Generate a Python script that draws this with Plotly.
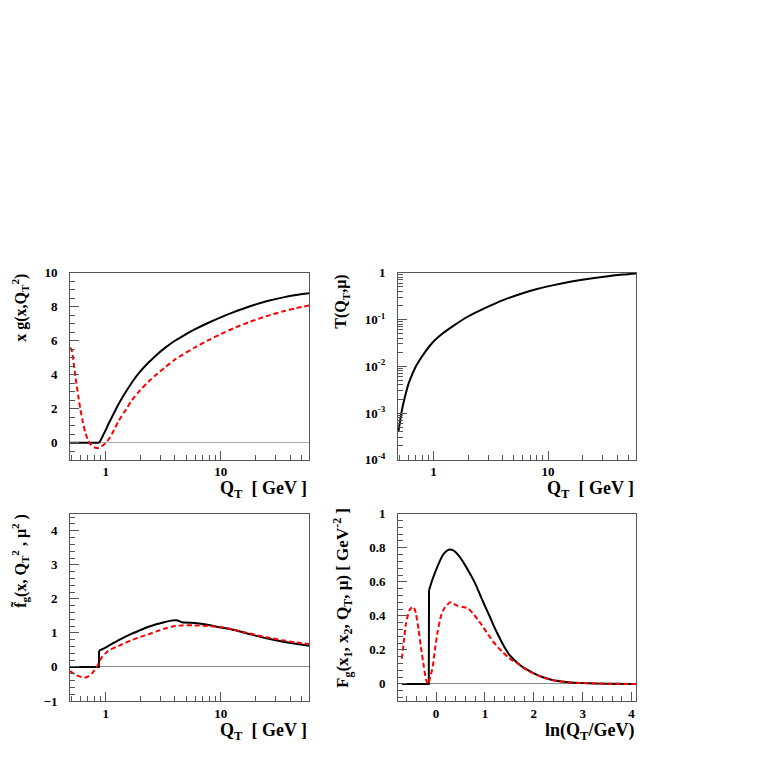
import plotly.graph_objects as go
import numpy as np

# ---------------- data ----------------
# Panel 1: x g(x, Q_T^2) vs Q_T
p1_black_q = [0.49, 0.88, 0.9, 0.95, 1.0, 1.06, 1.15, 1.3, 1.5, 1.69, 2.0, 2.36, 2.8, 3.3, 4.0, 4.6, 6.0, 8.0, 10, 12.8, 18, 25, 35, 45, 58.5]
p1_black_v = [0.0, 0.0, 0.12, 0.45, 0.75, 1.12, 1.6, 2.3, 3.0, 3.55, 4.2, 4.72, 5.2, 5.6, 6.0, 6.25, 6.68, 7.09, 7.38, 7.67, 8.03, 8.32, 8.55, 8.69, 8.8]
p1_red_q = [0.49, 0.505, 0.547, 0.58, 0.604, 0.635, 0.667, 0.70, 0.737, 0.79, 0.842, 0.89, 0.93, 1.0, 1.06, 1.15, 1.3, 1.5, 1.69, 2.0, 2.36, 2.8, 3.3, 4.0, 4.6, 6.0, 8.0, 10, 12.8, 18, 25, 35, 45, 58.5]
p1_red_v = [5.6, 5.48, 3.85, 2.7, 1.95, 1.2, 0.6, 0.2, -0.08, -0.25, -0.3, -0.27, -0.18, 0.0, 0.2, 0.6, 1.3, 1.95, 2.5, 3.1, 3.6, 4.05, 4.45, 4.9, 5.16, 5.62, 6.07, 6.39, 6.72, 7.12, 7.45, 7.73, 7.91, 8.07]

# Panel 2: T(Q_T, mu) vs Q_T
p2_q = [0.494, 0.53, 0.56, 0.604, 0.65, 0.692, 0.76, 0.846, 0.93, 1.0, 1.2, 1.5, 2.0, 2.93, 4.0, 5.73, 8.0, 11.2, 16, 22, 32, 45, 59]
p2_t = [3.98e-4, 1.15e-3, 2.09e-3, 4.17e-3, 6.61e-3, 9.33e-3, 0.0138, 0.0204, 0.0275, 0.0339, 0.0501, 0.0741, 0.116, 0.184, 0.257, 0.352, 0.447, 0.543, 0.646, 0.733, 0.830, 0.912, 0.964]

# Panel 3: f~_g(x, Q_T^2, mu^2) vs Q_T
p3_black_q = [0.49, 0.875, 0.877, 0.95, 1.06, 1.3, 1.69, 2.0, 2.36, 2.8, 3.28, 3.7, 4.1, 4.4, 4.6, 6.0, 7.0, 10, 12.8, 18, 25, 35, 45, 58.5]
p3_black_v = [0.0, 0.0, 0.48, 0.53, 0.62, 0.79, 0.98, 1.08, 1.18, 1.26, 1.32, 1.36, 1.37, 1.34, 1.31, 1.29, 1.26, 1.16, 1.09, 0.96, 0.84, 0.74, 0.68, 0.62]
p3_red_q = [0.49, 0.54, 0.584, 0.625, 0.667, 0.72, 0.76, 0.80, 0.84, 0.88, 0.93, 1.0, 1.06, 1.3, 1.69, 2.0, 2.36, 2.8, 3.28, 4.0, 4.6, 6.0, 8.0, 10, 12.8, 18, 25, 35, 45, 58.5]
p3_red_v = [-0.12, -0.22, -0.27, -0.30, -0.31, -0.26, -0.19, -0.1, 0.0, 0.15, 0.29, 0.40, 0.48, 0.62, 0.79, 0.88, 0.96, 1.05, 1.13, 1.2, 1.22, 1.22, 1.2, 1.17, 1.1, 0.98, 0.87, 0.78, 0.72, 0.67]

# Panel 4: F_g vs ln(Q_T/GeV)
p4_black_l = [-0.70, -0.15, -0.145, -0.07, 0.033, 0.136, 0.2, 0.273, 0.34, 0.41, 0.5, 0.58, 0.68, 0.786, 0.89, 0.99, 1.1, 1.197, 1.30, 1.40, 1.50, 1.61, 1.72, 1.81, 2.0, 2.2, 2.4, 2.7, 3.0, 3.5, 4.09]
p4_black_v = [0.0, 0.0, 0.55, 0.618, 0.694, 0.756, 0.778, 0.79, 0.786, 0.771, 0.74, 0.704, 0.655, 0.598, 0.53, 0.464, 0.395, 0.33, 0.27, 0.215, 0.17, 0.138, 0.11, 0.093, 0.062, 0.038, 0.022, 0.01, 0.005, 0.001, 0.0]
p4_red_l = [-0.70, -0.66, -0.62, -0.55, -0.48, -0.44, -0.41, -0.36, -0.31, -0.25, -0.205, -0.16, -0.12, -0.07, -0.02, 0.033, 0.10, 0.17, 0.29, 0.36, 0.44, 0.55, 0.65, 0.75, 0.855, 0.96, 1.06, 1.16, 1.265, 1.37, 1.47, 1.575, 1.675, 1.81, 2.0, 2.2, 2.4, 2.7, 3.0, 3.5, 4.09]
p4_red_v = [0.148, 0.25, 0.35, 0.43, 0.455, 0.44, 0.41, 0.32, 0.215, 0.10, 0.023, 0.0, 0.04, 0.10, 0.21, 0.31, 0.40, 0.446, 0.48, 0.47, 0.459, 0.452, 0.445, 0.415, 0.378, 0.335, 0.292, 0.252, 0.215, 0.185, 0.158, 0.135, 0.119, 0.09, 0.06, 0.036, 0.021, 0.01, 0.005, 0.001, 0.0]

# tick values
log_major = [1, 10]
log_major_text = ["1", "10"]
log_minor = [0.5, 0.6, 0.7, 0.8, 0.9, 2, 3, 4, 5, 6, 7, 8, 9, 20, 30, 40, 50]
t_major = [1e-4, 1e-3, 1e-2, 1e-1, 1]
t_major_text = ["10<sup>-4</sup>", "10<sup>-3</sup>", "10<sup>-2</sup>", "10<sup>-1</sup>", "1"]
t_minor = [m * d for d in [1e-4, 1e-3, 1e-2, 1e-1] for m in range(2, 10)]
f_major = [0, 0.2, 0.4, 0.6, 0.8, 1.0]
f_major_text = ["0", "0.2", "0.4", "0.6", "0.8", "1"]

# ---------------- figure ----------------
OFF = 8            # default body margin of the html page
W = 763 - 2 * OFF
FONT = "Liberation Serif"
FRAME = "#555555"
BLACK = "#000000"
RED = "#ff0000"

fig = go.Figure()

def px_x(p):
    return (p - OFF) / W

def px_y(p):
    return 1 - (p - OFF) / W

dom = {
    1: ([70, 309], [271, 462]),
    2: ([398, 636], [271, 462]),
    3: ([70, 309], [517, 708]),
    4: ([398, 636], [517, 708]),
}

def add_line(x, y, color, dash, k, shape="linear", smooth=1.0):
    fig.add_trace(go.Scatter(
        x=x, y=y, mode="lines",
        line=dict(color=color, width=2, dash=dash, shape=shape,
                  smoothing=smooth if shape == "spline" else None),
        xaxis="x" if k == 1 else f"x{k}", yaxis="y" if k == 1 else f"y{k}",
        showlegend=False, hoverinfo="skip"))

DASH = "5px,3px"
# panel 1
add_line(p1_black_q[:2], p1_black_v[:2], BLACK, "solid", 1)
add_line(p1_black_q[1:], p1_black_v[1:], BLACK, "solid", 1, "spline", 0.8)
add_line(p1_red_q, p1_red_v, RED, DASH, 1, "spline", 0.8)
# panel 2
add_line(p2_q, p2_t, BLACK, "solid", 2, "spline", 0.8)
# panel 3
add_line(p3_black_q[:3], p3_black_v[:3], BLACK, "solid", 3)
add_line(p3_black_q[2:], p3_black_v[2:], BLACK, "solid", 3, "spline", 0.6)
add_line(p3_red_q, p3_red_v, RED, DASH, 3, "spline", 0.8)
# panel 4
add_line(p4_black_l[:3], p4_black_v[:3], BLACK, "solid", 4)
add_line(p4_black_l[2:], p4_black_v[2:], BLACK, "solid", 4, "spline", 0.6)
add_line(p4_red_l, p4_red_v, RED, DASH, 4, "spline", 0.5)

tickfont = dict(family=FONT, size=13, color="#000", weight="bold")
common = dict(showline=True, linecolor=FRAME, linewidth=1, mirror=True,
              ticks="inside", ticklen=9, tickwidth=1, tickcolor=FRAME,
              showgrid=False, tickfont=tickfont)
XSTAND = 0
YSTAND = 9

def log_x_axis(k):
    (x0, x1), _ = dom[k]
    return dict(type="log", range=[np.log10(0.49), np.log10(58.5)],
                domain=[px_x(x0), px_x(x1)],
                anchor="y" if k == 1 else f"y{k}",
                tickmode="array", tickvals=log_major, ticktext=log_major_text,
                minor=dict(tickmode="array", tickvals=log_minor, ticks="inside", ticklen=5, tickcolor=FRAME),
                zeroline=False, ticklabelstandoff=XSTAND, **common)

def y_dom(k):
    _, (y0, y1) = dom[k]
    return [px_y(y1), px_y(y0)]

layout = dict(
    width=W, height=W, margin=dict(l=0, r=0, t=0, b=0),
    paper_bgcolor="white", plot_bgcolor="white", showlegend=False,
    xaxis=log_x_axis(1),
    xaxis2=log_x_axis(2),
    xaxis3=log_x_axis(3),
    xaxis4=dict(range=[-0.78, 4.09], domain=[px_x(398), px_x(636)], anchor="y4",
                tickmode="linear", tick0=0, dtick=1,
                minor=dict(dtick=0.2, tick0=0, ticks="inside", ticklen=5, tickcolor=FRAME),
                zeroline=False, ticklabelstandoff=XSTAND, **common),
    yaxis=dict(range=[-1, 10], domain=y_dom(1), anchor="x",
               tickmode="linear", tick0=0, dtick=2,
               minor=dict(dtick=0.5, tick0=0, ticks="inside", ticklen=5, tickcolor=FRAME),
               zeroline=True, zerolinecolor="#aaaaaa", zerolinewidth=1,
               ticklabelstandoff=YSTAND, **common),
    yaxis2=dict(type="log", range=[-4, 0], domain=y_dom(2), anchor="x2",
                tickmode="array", tickvals=t_major, ticktext=t_major_text,
                minor=dict(tickmode="array", tickvals=t_minor, ticks="inside", ticklen=5, tickcolor=FRAME),
                zeroline=False, ticklabelstandoff=YSTAND, **common),
    yaxis3=dict(range=[-1, 4.5], domain=y_dom(3), anchor="x3",
                tickmode="linear", tick0=0, dtick=1,
                minor=dict(dtick=0.2, tick0=0, ticks="inside", ticklen=5, tickcolor=FRAME),
                zeroline=True, zerolinecolor="#888888", zerolinewidth=1,
                ticklabelstandoff=YSTAND, **common),
    yaxis4=dict(range=[-0.1, 1.0], domain=y_dom(4), anchor="x4",
                tickmode="array", tickvals=f_major, ticktext=f_major_text,
                minor=dict(dtick=0.04, tick0=0, ticks="inside", ticklen=5, tickcolor=FRAME),
                zeroline=True, zerolinecolor="#888888", zerolinewidth=1,
                ticklabelstandoff=YSTAND, **common),
)
fig.update_layout(**layout)

tfont = dict(family=FONT, size=18, color="#000", weight="bold")
yfont = dict(family=FONT, size=16, color="#000", weight="bold")
yfont4 = dict(family=FONT, size=17, color="#000", weight="bold")

annots = [
    # x titles (right aligned)
    dict(text="Q<sub>T</sub>  [ GeV ]", x=px_x(309), y=px_y(492), xanchor="right", yanchor="middle", font=tfont),
    dict(text="Q<sub>T</sub>  [ GeV ]", x=px_x(636), y=px_y(492), xanchor="right", yanchor="middle", font=tfont),
    dict(text="Q<sub>T</sub>  [ GeV ]", x=px_x(309), y=px_y(739), xanchor="right", yanchor="middle", font=tfont),
    dict(text="ln(Q<sub>T</sub>/GeV)", x=px_x(636), y=px_y(739), xanchor="right", yanchor="middle", font=tfont),
    # y titles (top aligned, rotated)
    dict(text="x g(x,Q<sub>T</sub><sup>2</sup>)", x=px_x(20), y=px_y(270), xanchor="center", yanchor="top", textangle=-90, font=yfont),
    dict(text="T(Q<sub>T</sub>,μ)", x=px_x(342), y=px_y(271), xanchor="center", yanchor="top", textangle=-90, font=yfont),
    dict(text="f\u0303<sub>g</sub>(x, Q<sub>T</sub><sup>2</sup> , μ<sup>2</sup> )", x=px_x(20), y=px_y(515), xanchor="center", yanchor="top", textangle=-90, font=yfont),
    dict(text="F<sub>g</sub>(x<sub>1</sub>, x<sub>2</sub>, Q<sub>T</sub>, μ) [ GeV<sup>-2</sup> ]", x=px_x(343), y=px_y(509), xanchor="center", yanchor="top", textangle=-90, font=yfont4),
]
for a in annots:
    a.update(xref="paper", yref="paper", showarrow=False)
    fig.add_annotation(**a)

fig.write_html("out.html")
